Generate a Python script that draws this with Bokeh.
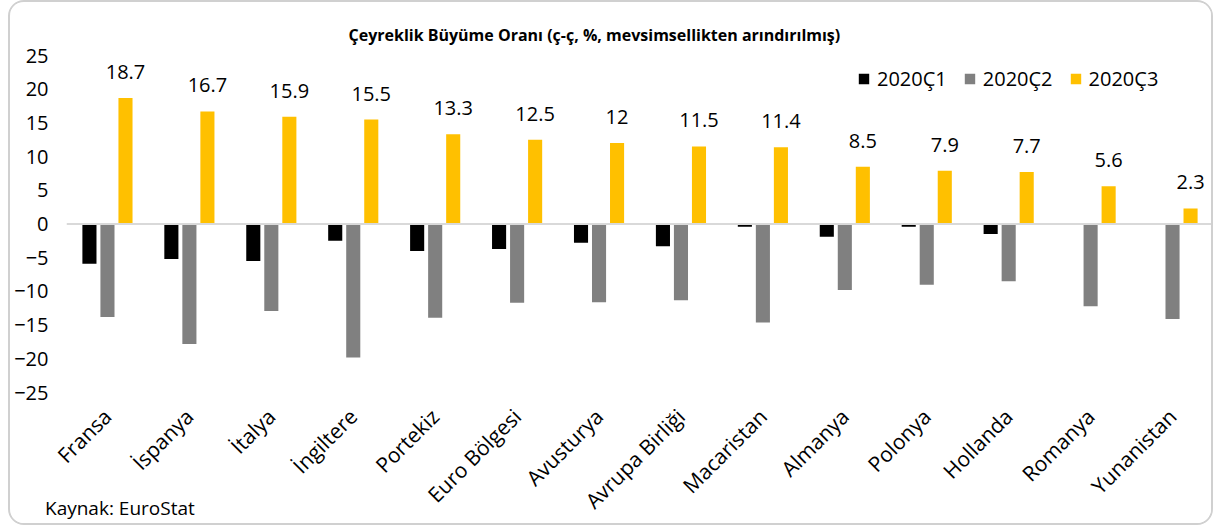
import math
from bokeh.plotting import figure
from bokeh.layouts import column
from bokeh.models import (ColumnDataSource, Span, LabelSet, FixedTicker, Legend, LegendItem,
                          Range1d, CustomJSTickFormatter, Div)
from bokeh.transform import dodge
from bokeh.core.properties import value
from bokeh.embed import file_html
from bokeh.resources import INLINE

categories = ["Fransa", "İspanya", "İtalya", "İngiltere", "Portekiz", "Euro Bölgesi", "Avusturya",
              "Avrupa Birliği", "Macaristan", "Almanya", "Polonya", "Hollanda", "Romanya", "Yunanistan"]
q1 = [-5.9, -5.2, -5.5, -2.5, -4.0, -3.7, -2.8, -3.3, -0.4, -1.9, -0.4, -1.5, 0.0, 0.1]
q2 = [-13.8, -17.8, -12.9, -19.8, -13.9, -11.7, -11.6, -11.3, -14.6, -9.8, -9.0, -8.5, -12.2, -14.1]
q3 = [18.7, 16.7, 15.9, 15.5, 13.3, 12.5, 12.0, 11.5, 11.4, 8.5, 7.9, 7.7, 5.6, 2.3]
series_names = ["2020Ç1", "2020Ç2", "2020Ç3"]
y_ticks = [-25, -20, -15, -10, -5, 0, 5, 10, 15, 20, 25]
title_text = "Çeyreklik Büyüme Oranı (ç-ç, %, mevsimsellikten arındırılmış)"
source_text = "Kaynak: EuroStat"

FONT = "Open Sans"
colors = ["#000000", "#808080", "#FFC000"]

idx = list(range(len(categories)))
src = ColumnDataSource(dict(x=idx, q1=q1, q2=q2, q3=q3,
                            q3_label=[f"{v:g}" for v in q3]))

p = figure(width=1205, height=525, output_backend="svg", toolbar_location=None,
           x_range=Range1d(-0.5, len(categories) - 0.5), y_range=Range1d(y_ticks[0], y_ticks[-1]),
           min_border_left=56, min_border_right=2, min_border_top=53, min_border_bottom=134)
p.styles = {"border": "2px solid #d0d0d0", "border-radius": "16px", "overflow": "hidden",
            "margin-left": "8px"}
p.outline_line_color = None
p.xgrid.visible = False
p.ygrid.visible = False

p.title.text = title_text
p.title.align = "left"
p.title.offset = 282
p.title.text_font = FONT
p.title.text_font_style = "bold"
p.title.text_font_size = "16px"
p.title.text_color = "#000000"
p.title.standoff = 20

bw = 0.172
off = 0.22
r1 = p.vbar(x=dodge("x", -off, range=p.x_range), top="q1", width=bw, source=src,
            fill_color=colors[0], line_color=None)
r2 = p.vbar(x=dodge("x", 0, range=p.x_range), top="q2", width=bw, source=src,
            fill_color=colors[1], line_color=None)
r3 = p.vbar(x=dodge("x", off, range=p.x_range), top="q3", width=bw, source=src,
            fill_color=colors[2], line_color=None)

p.add_layout(Span(location=0, dimension="width", line_color="#d9d9d9", line_width=2), "center")

labels = LabelSet(x=dodge("x", off, range=p.x_range), y="q3", text="q3_label", source=src,
                  text_align="center", text_baseline="alphabetic", y_offset=19,
                  text_font=value(FONT), text_font_size="20px", text_color="#000000")
p.add_layout(labels)

# axes
p.yaxis.ticker = FixedTicker(ticks=y_ticks)
p.yaxis.axis_line_color = None
p.yaxis.major_tick_line_color = None
p.yaxis.minor_tick_line_color = None
p.yaxis.major_tick_out = 0
p.yaxis.major_tick_in = 0
p.yaxis.major_label_standoff = 18
p.yaxis.major_label_text_font = FONT
p.yaxis.major_label_text_font_size = "20px"
p.yaxis.major_label_text_color = "#000000"

p.xaxis.ticker = FixedTicker(ticks=idx)
p.xaxis.formatter = CustomJSTickFormatter(args=dict(cats=categories),
                                          code="return cats[Math.round(tick)] || '';")
p.xaxis.major_label_orientation = math.pi / 4
p.xaxis.axis_line_color = None
p.xaxis.major_tick_line_color = None
p.xaxis.minor_tick_line_color = None
p.xaxis.major_tick_out = 0
p.xaxis.major_tick_in = 0
p.xaxis.major_label_standoff = 20
p.xaxis.major_label_text_font = FONT
p.xaxis.major_label_text_font_size = "21px"
p.xaxis.major_label_text_color = "#000000"

legend = Legend(items=[LegendItem(label=series_names[0], renderers=[r1]),
                       LegendItem(label=series_names[1], renderers=[r2]),
                       LegendItem(label=series_names[2], renderers=[r3])],
                orientation="horizontal", location=(791, 300),
                glyph_width=13, glyph_height=13, label_standoff=7, spacing=16,
                padding=0, margin=0, border_line_color=None, background_fill_alpha=0,
                label_text_font=FONT, label_text_font_size="20px", label_text_color="#000000")
p.add_layout(legend, "center")

source_div = Div(text=source_text, width=220, height=26,
                 styles={"margin-top": "-30px", "margin-left": "45px", "position": "relative",
                         "z-index": "10", "font-family": FONT, "font-size": "19px",
                         "line-height": "26px", "color": "#000000", "white-space": "nowrap"})

layout = column(p, source_div)

open("out.html", "w").write(file_html(layout, INLINE))
